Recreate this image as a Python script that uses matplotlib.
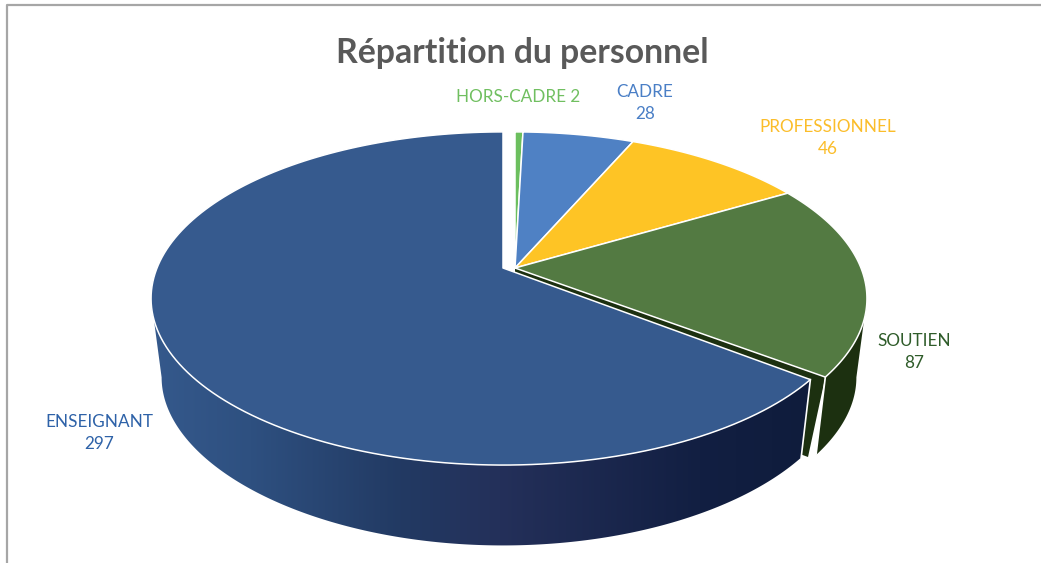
import matplotlib
matplotlib.use("Agg")
import matplotlib.pyplot as plt
import numpy as np
from matplotlib.colors import to_rgb
from matplotlib.patches import Polygon

plt.rcParams["font.family"] = ["Lato", "DejaVu Sans"]

title = "Répartition du personnel"
categories = ["HORS-CADRE", "CADRE", "PROFESSIONNEL", "SOUTIEN", "ENSEIGNANT"]
values = [2, 28, 46, 87, 297]
separators = [" ", "\n", "\n", "\n", "\n"]

top_colors = ["#6cbf5e", "#4f81c4", "#fec425", "#537a42", "#365a8e"]
text_colors = ["#70bf60", "#4a7fc6", "#fbbd2a", "#2f5c2a", "#2e62a8"]
label_pos = [(518, 97), (645, 103), (828, 138), (914, 352), (99, 433)]
exploded = [True, True, True, True, False]

# geometry of the tilted pie, in pixels
APEX_Y = 268
PIE_A = 346
PIE_B = 161
PERSP = 0.183
BOTTOM_SCALE = 0.97
BOTTOM_DROP = 80
BOTTOM_B = 154
BOTTOM_PERSP = 0.22
CX_MAIN = 503
CX_SPLIT = 515
# small angular gap where soutien and enseignant separate
GAP_SOUTIEN = 0.5
GAP_ENS = 0.4
# angle where the rim is widest, the wall is hidden beyond it
TANGENT = np.degrees(np.arccos(-PERSP))

shade_x = [150, 250, 400, 500, 700, 810]
shade_colors = ["#35598c", "#2e5080", "#223a63", "#24305a", "#121f42", "#0f1c3c"]
soutien_side = "#1c3010"


def project(theta, cx, bottom=False):
    t = np.radians(theta)
    w = 1 + PERSP * np.cos(t)
    u = PIE_A * np.sin(t) / w
    if bottom:
        v = BOTTOM_B * np.cos(t) / (1 + BOTTOM_PERSP * np.cos(t))
        return cx + BOTTOM_SCALE * u, APEX_Y + BOTTOM_DROP - v
    return cx + u, APEX_Y - PIE_B * np.cos(t) / w


def top_polygon(t0, t1, cx):
    th = np.linspace(t0, t1, 160)
    x, y = project(th, cx)
    return np.vstack([[cx, APEX_Y], np.column_stack([x, y])])


def side_polygon(t0, t1, cx):
    th = np.linspace(t0, t1, 200)
    xa, ya = project(th, cx)
    xb, yb = project(th, cx, bottom=True)
    return np.vstack([np.column_stack([xa, ya]),
                      np.column_stack([xb, yb])[::-1]])


fig = plt.figure(figsize=(10.41, 5.63), dpi=100)
ax = fig.add_axes([0, 0, 1, 1])

# chart frame, only top and left are in the crop
ax.plot([7, 7, 1041], [563, 5, 5], color="#a6a6a6", lw=1.6, zorder=1)

edges = np.cumsum([0] + values) / sum(values) * 360
t_sout0, t_sout1 = edges[3], edges[4] - GAP_SOUTIEN
t_ens0, t_ens1 = edges[4] + GAP_ENS, edges[5]

# soutien outer wall and cut face
ax.add_patch(Polygon(side_polygon(TANGENT, t_sout1, CX_SPLIT),
                     fc=soutien_side, ec="none", zorder=2))
cx0, cy0 = project(t_sout1, CX_SPLIT)
bx0, by0 = project(t_sout1, CX_SPLIT, bottom=True)
ax.add_patch(Polygon([(CX_SPLIT, APEX_Y), (cx0, cy0), (bx0 - 8, by0 + 2),
                      (CX_SPLIT, APEX_Y + BOTTOM_DROP)],
                     fc=soutien_side, ec="none", zorder=3))
ax.plot([cx0, bx0], [cy0, by0], color="white", lw=1.2, zorder=4)

# enseignant outer wall, shaded left to right
ens_wall = Polygon(side_polygon(t_ens0, 360 - TANGENT, CX_MAIN), fc="none", ec="none",
                   transform=ax.transData)
ax.add_patch(ens_wall)
grad_x = np.linspace(shade_x[0], shade_x[-1], 330)
grad = np.array([[np.interp(x, shade_x, [to_rgb(c)[k] for c in shade_colors])
                  for k in range(3)] for x in grad_x])[np.newaxis, :, :]
im = ax.imshow(grad, extent=(shade_x[0], shade_x[-1], 563, 200), aspect="auto",
               interpolation="bilinear", zorder=5)
im.set_clip_path(ens_wall)
ex0, ey0 = project(t_ens0, CX_MAIN)
fx0, fy0 = project(t_ens0, CX_MAIN, bottom=True)
ax.plot([ex0, fx0], [ey0, fy0], color="white", lw=1.2, zorder=6)

# top faces
tops_t0 = [edges[0], edges[1], edges[2], t_sout0, t_ens0]
tops_t1 = [edges[1], edges[2], edges[3], t_sout1, t_ens1]
for i, cat in enumerate(categories):
    cx = CX_SPLIT if exploded[i] else CX_MAIN
    ax.add_patch(Polygon(top_polygon(tops_t0[i], tops_t1[i], cx), closed=True,
                         fc=top_colors[i], ec="white", lw=1.1, zorder=7,
                         joinstyle="round"))

# labels
for i, cat in enumerate(categories):
    ax.text(label_pos[i][0], label_pos[i][1], f"{cat}{separators[i]}{values[i]}",
            color=text_colors[i], fontsize=12.3, ha="center", va="center",
            linespacing=1.42, zorder=8)

ax.text(522, 53, title, color="#595959", fontsize=24.3, fontweight="bold",
        ha="center", va="center", zorder=8)

ax.set_xlim(0, 1041)
ax.set_ylim(563, 0)
ax.axis("off")

fig.savefig("out.png", dpi=100)
